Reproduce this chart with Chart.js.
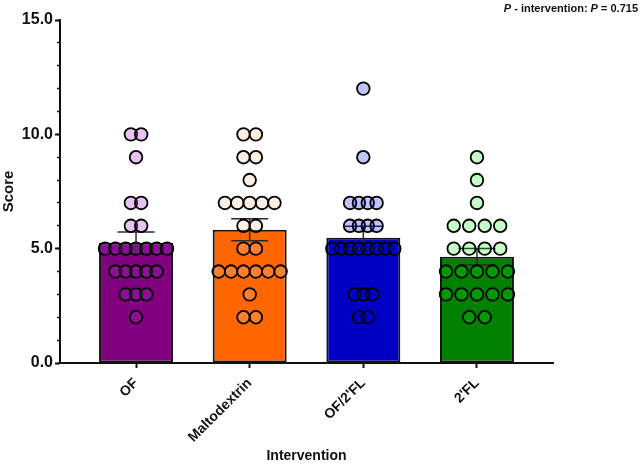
<!DOCTYPE html>
<html>
<head>
<meta charset="utf-8">
<script src="https://cdn.jsdelivr.net/npm/chart.js@4/dist/chart.umd.min.js"></script>
<style>
  html, body { margin: 0; padding: 0; background: #fff; }
  #wrap { width: 640px; height: 465px; position: relative; }
</style>
</head>
<body>
<div id="wrap"><canvas id="chart"></canvas></div>
<script>
// groups and values
const groups = ['OF', 'Maltodextrin', "OF/2'FL", "2'FL"];
const ofScores = [10, 10, 9, 7, 7, 6, 6, 5, 5, 5, 5, 5, 5, 5, 4, 4, 4, 4, 4, 3, 3, 3, 2];
const maltoScores = [10, 10, 9, 9, 8, 7, 7, 7, 7, 7, 6, 6, 5, 5, 4, 4, 4, 4, 4, 4, 3, 2, 2];
const of2flScores = [12, 9, 7, 7, 7, 7, 6, 6, 6, 6, 5, 5, 5, 5, 5, 5, 5, 5, 3, 3, 3, 2, 2];
const fl2Scores = [9, 8, 7, 6, 6, 6, 6, 5, 5, 5, 5, 4, 4, 4, 4, 4, 3, 3, 3, 3, 3, 2, 2];
const means = [5.26, 5.83, 5.48, 4.65];
const sems = [0.47, 0.48, 0.5, 0.36];
const yTicks = [0, 5, 10, 15];
const pText = ['P', ' - intervention: ', 'P', ' = 0.715'];

const allScores = [ofScores, maltoScores, of2flScores, fl2Scores];
const barColors = ['#800080', '#ff6600', '#0000c4', '#008000'];
const dotColors = ['rgba(169,48,203,0.29)', 'rgba(255,194,150,0.28)', 'rgba(0,0,234,0.235)', 'rgba(0,241,0,0.22)'];
const FONT = 'Arial, "Liberation Sans", sans-serif';

// beeswarm: points with the same score sit in one row, centred on the group
function swarm(scores, idx) {
  const rows = {};
  scores.forEach(v => { (rows[v] = rows[v] || []).push(v); });
  const widest = Math.max(...Object.values(rows).map(r => r.length));
  const step = widest > 1 ? 0.545 / (widest - 1) : 0;
  const pts = [];
  for (const v of Object.keys(rows)) {
    const n = rows[v].length;
    rows[v].forEach((val, k) => {
      pts.push({ x: idx + (k - (n - 1) / 2) * step, y: val });
    });
  }
  return pts;
}

const errData = [];
means.forEach((m, i) => {
  errData.push({ x: i, y: m - sems[i] }, { x: i, y: m + sems[i] }, { x: i, y: null });
});

const pLabel = {
  id: 'pLabel',
  afterDraw(chart) {
    const ctx = chart.ctx;
    ctx.save();
    ctx.fillStyle = '#111';
    ctx.textBaseline = 'alphabetic';
    let x = 638;
    for (let i = pText.length - 1; i >= 0; i--) {
      ctx.font = (i % 2 === 0 ? 'italic bold ' : 'bold ') + '11px ' + FONT;
      const w = ctx.measureText(pText[i]).width;
      x -= w;
      ctx.fillText(pText[i], x, 11.5);
    }
    ctx.restore();
  }
};

const datasets = [
  {
    type: 'bar',
    data: means.map((m, i) => ({ x: i, y: m })),
    backgroundColor: barColors,
    borderColor: '#141414',
    borderWidth: 2,
    borderSkipped: false,
    categoryPercentage: 1,
    barPercentage: 0.651,
    order: 3
  },
  {
    type: 'line',
    data: errData,
    borderColor: '#2a2a2a',
    borderWidth: 1.5,
    spanGaps: false,
    pointStyle: 'line',
    pointRadius: 18.5,
    pointBorderWidth: 1.5,
    pointBorderColor: '#2a2a2a',
    order: 2
  }
];
allScores.forEach((s, i) => {
  datasets.push({
    type: 'scatter',
    data: swarm(s, i),
    backgroundColor: dotColors[i],
    borderColor: '#000',
    borderWidth: 1.8,
    pointRadius: 6.3,
    order: 1
  });
});

new Chart(document.getElementById('chart'), {
  type: 'bar',
  data: { datasets },
  options: {
    responsive: true,
    maintainAspectRatio: false,
    animation: false,
    events: [],
    layout: { padding: { top: 19, right: 87, bottom: 0, left: 0 } },
    plugins: { legend: { display: false }, tooltip: { enabled: false } },
    scales: {
      x: {
        type: 'linear',
        position: 'bottom',
        offset: false,
        min: -0.669,
        max: 3.669,
        afterBuildTicks: axis => { axis.ticks = groups.map((g, i) => ({ value: i })); },
        afterFit: axis => { axis.height = 102; },
        ticks: {
          autoSkip: false,
          minRotation: 45,
          maxRotation: 45,
          padding: 7,
          color: '#111',
          font: { family: FONT, size: 14, weight: 'bold' },
          callback: v => groups[v]
        },
        grid: { offset: false, drawOnChartArea: false, tickLength: 5, tickWidth: 2, tickColor: '#111' },
        border: { display: true, width: 2, color: '#111' },
        title: {
          display: true,
          text: 'Intervention',
          color: '#111',
          padding: { top: 0, bottom: 0 },
          font: { family: FONT, size: 14, weight: 'bold' }
        }
      },
      y: {
        position: 'left',
        weight: 1,
        min: 0,
        max: 15,
        afterBuildTicks: axis => { axis.ticks = yTicks.map(v => ({ value: v })); },
        afterFit: axis => { axis.width = 60; },
        ticks: {
          padding: 2,
          color: '#111',
          font: { family: FONT, size: 16, weight: 'bold' },
          callback: v => v.toFixed(1)
        },
        grid: { drawOnChartArea: false, tickLength: 5, tickWidth: 2, tickColor: '#111' },
        border: { display: true, width: 2, color: '#111' },
        title: {
          display: true,
          text: 'Score',
          color: '#111',
          padding: { top: 0, bottom: 4 },
          font: { family: FONT, size: 15, weight: 'bold' }
        }
      },
      yMinor: {
        position: 'left',
        weight: 0,
        min: 0,
        max: 15,
        ticks: { display: false, stepSize: 1 },
        afterFit: axis => { axis.width = 0; },
        grid: { drawOnChartArea: false, tickLength: 3, tickWidth: 1.5, tickColor: '#111' },
        border: { display: false }
      }
    }
  },
  plugins: [pLabel]
});
</script>
</body>
</html>
